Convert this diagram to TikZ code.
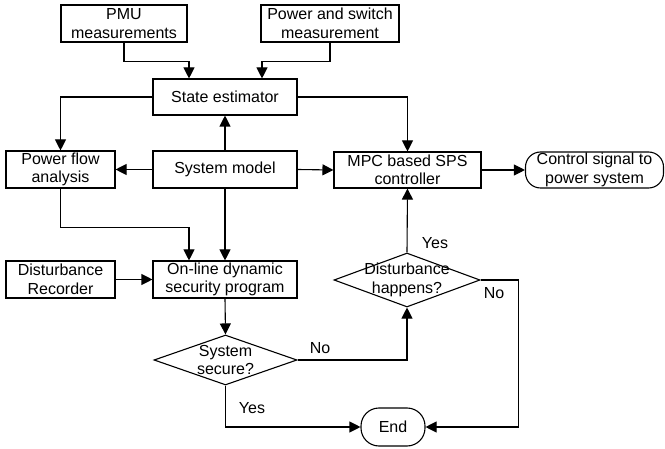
\documentclass[tikz,border=0pt]{standalone}
\usepackage{fontspec}
\setmainfont{Liberation Sans}
\usetikzlibrary{shapes.geometric,arrows.meta,calc}
\begin{document}
\begin{tikzpicture}[x=1bp,y=-1bp,
  every node/.style={font=\fontsize{16bp}{18.5bp}\selectfont, align=center, inner sep=0pt},
  box/.style={draw, line width=1.1bp, rectangle},
  term/.style={draw, line width=1.1bp, rectangle, rounded corners=15bp},
  dec/.style={draw, line width=1.1bp, diamond},
  flow/.style={line width=1.1bp, -{Triangle[length=11bp,width=11bp]}},
  lbl/.style={font=\fontsize{16bp}{18.5bp}\selectfont}]
\useasboundingbox (0,0) rectangle (665,449);

% boxes
\node[box, minimum width=126bp, minimum height=37bp] (pmu) at (124,23.5) {PMU\\measurements};
\node[box, minimum width=138bp, minimum height=37bp] (psw) at (330,23.5) {Power and switch\\measurement};
\node[box, minimum width=144bp, minimum height=36bp] (est) at (225,97) {State estimator};
\node[box, minimum width=109bp, minimum height=37bp] (pf) at (60.5,169.5) {Power flow\\analysis};
\node[box, minimum width=144bp, minimum height=37bp] (sm) at (225,169.5) {System model};
\node[box, minimum width=147bp, minimum height=36bp] (mpc) at (407.5,170) {MPC based SPS\\controller};
\node[term, minimum width=138bp, minimum height=36bp] (sig) at (594.5,170) {Control signal to\\power system};
\node[box, minimum width=109bp, minimum height=37bp] (dr) at (60.5,279.5) {Disturbance\\Recorder};
\node[box, minimum width=144bp, minimum height=37bp] (ol) at (225,279.5) {On-line dynamic\\security program};

% decisions: the outline is drawn at a fixed size, the text sits on top
\node[dec, minimum width=146bp, minimum height=54bp] (dh) at (407,280) {};
\node at (dh) {Disturbance\\happens?};
\node[dec, minimum width=143bp, minimum height=50bp] (ss) at (225.5,360) {};
\node at (ss) {System\\secure?};

\node[term, rounded corners=18bp, minimum width=64bp, minimum height=38bp] (end) at (393,427) {End};

% connectors
\draw[flow] (pmu.south) -- ++(0,19) -| ([xshift=-36bp]est.north);
\draw[flow] (psw.south) -- ++(0,19) -| ([xshift=37bp]est.north);
\draw[flow] (est.west) -| (pf.north);
\draw[flow] (est.east) -| (mpc.north);
\draw[flow] (sm.north) -- (est.south);
\draw[flow] (sm.west) -- (pf.east);
\draw[flow] (sm.east) -- (mpc.west);
\draw[flow] (mpc.east) -- (sig.west);
\draw[flow] (pf.south) -- ++(0,39) -| ([xshift=-36bp]ol.north);
\draw[flow] (sm.south) -- (ol.north);
\draw[flow] (dr.east) -- (ol.west);
\draw[flow] (ol.south) -- (ss.north);
\draw[flow] (ss.east) -| (dh.south);
\draw[flow] (dh.north) -- (mpc.south);
\draw[flow] (dh.east) -- ++(38,0) |- (end.east);
\draw[flow] (ss.south) |- (end.west);

% branch labels
\node[lbl] at (320,348) {No};
\node[lbl] at (435,243) {Yes};
\node[lbl] at (494,293) {No};
\node[lbl] at (252,408) {Yes};
\end{tikzpicture}
\end{document}
